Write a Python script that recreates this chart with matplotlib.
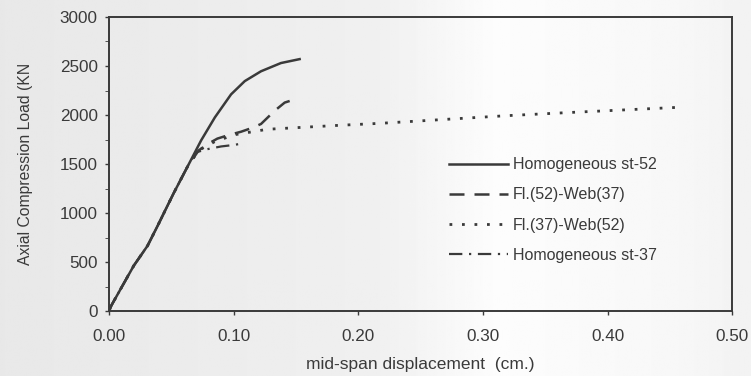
import numpy as np
import matplotlib
matplotlib.use("Agg")
import matplotlib.pyplot as plt
from matplotlib.ticker import MultipleLocator

plt.rcParams['font.family'] = ['Liberation Sans', 'DejaVu Sans']

# mid-span displacement (cm) / axial load (KN)
st52_x = [0.0, 0.002, 0.020, 0.031, 0.039, 0.052, 0.063, 0.074, 0.085, 0.098, 0.109, 0.122, 0.138, 0.153]
st52_y = [0, 60, 466, 668, 869, 1205, 1473, 1742, 1976, 2211, 2346, 2446, 2530, 2570]

fl52_x = [0.0, 0.002, 0.020, 0.031, 0.039, 0.052, 0.063, 0.072, 0.080, 0.087, 0.097, 0.106, 0.115, 0.122, 0.133, 0.141, 0.149]
fl52_y = [0, 60, 466, 668, 869, 1205, 1473, 1640, 1710, 1760, 1800, 1830, 1870, 1909, 2044, 2127, 2160]

fl37_x = [0.0, 0.002, 0.020, 0.031, 0.039, 0.052, 0.063, 0.072, 0.085, 0.101, 0.127, 0.181, 0.218, 0.318, 0.371, 0.459]
fl37_y = [0, 60, 466, 668, 869, 1205, 1473, 1640, 1730, 1800, 1855, 1893, 1916, 1993, 2027, 2080]

st37_x = [0.0, 0.002, 0.020, 0.031, 0.039, 0.052, 0.063, 0.070, 0.078, 0.090, 0.100, 0.107]
st37_y = [0, 60, 466, 668, 869, 1205, 1473, 1620, 1650, 1680, 1695, 1710]

labels = ["Homogeneous st-52", "Fl.(52)-Web(37)", "Fl.(37)-Web(52)", "Homogeneous st-37"]

ink = '#3a3a3a'

fig = plt.figure(figsize=(7.51, 3.76), dpi=100)
fig.patch.set_facecolor('#ededed')

# scan-like light band across the page
bg = fig.add_axes([0, 0, 1, 1], zorder=-10)
grad = np.interp(np.linspace(0, 1, 400), [0, 0.5, 0.66, 0.9, 1.0], [0.91, 0.94, 0.99, 0.97, 0.95])
bg.imshow(np.tile(grad, (2, 1)), aspect='auto', cmap='gray', vmin=0, vmax=1, extent=[0, 1, 0, 1])
bg.axis('off')

ax = fig.add_axes([0.145, 0.172, 0.830, 0.783])
ax.patch.set_alpha(0)

ax.plot(st52_x, st52_y, color=ink, lw=1.8, ls='-', label=labels[0])
ax.plot(fl52_x, fl52_y, color=ink, lw=1.8, ls=(0, (6, 4)), label=labels[1])
ax.plot(fl37_x, fl37_y, color=ink, lw=2.0, ls=(0, (1, 3.5)), label=labels[2])
ax.plot(st37_x, st37_y, color=ink, lw=1.6, ls=(0, (6, 3, 1, 3)), label=labels[3])

ax.set_xlim(0, 0.5)
ax.set_ylim(0, 3000)
ax.set_xticks([0.0, 0.1, 0.2, 0.3, 0.4, 0.5])
ax.set_xticklabels(["0.00", "0.10", "0.20", "0.30", "0.40", "0.50"])
ax.yaxis.set_major_locator(MultipleLocator(500))
ax.yaxis.set_minor_locator(MultipleLocator(250))
ax.tick_params(axis='both', colors=ink, labelsize=12.3, length=3, width=1)
ax.tick_params(axis='x', pad=10)
ax.tick_params(axis='y', pad=5)
ax.tick_params(axis='y', which='minor', length=3, color=ink)
for s in ax.spines.values():
    s.set_color(ink)
    s.set_linewidth(1.4)

ax.set_xlabel("mid-span displacement  (cm.)", fontsize=12.5, color=ink, labelpad=9)
ax.set_ylabel("Axial Compression Load (KN", fontsize=11.3, color=ink, labelpad=19)

leg = ax.legend(loc='upper left', bbox_to_anchor=(0.535, 0.545), frameon=False,
                handlelength=3.7, handletextpad=0.3, labelspacing=0.95, fontsize=11.5,
                borderaxespad=0)
for t in leg.get_texts():
    t.set_color(ink)

fig.savefig("out.png", dpi=100, facecolor=fig.get_facecolor())
